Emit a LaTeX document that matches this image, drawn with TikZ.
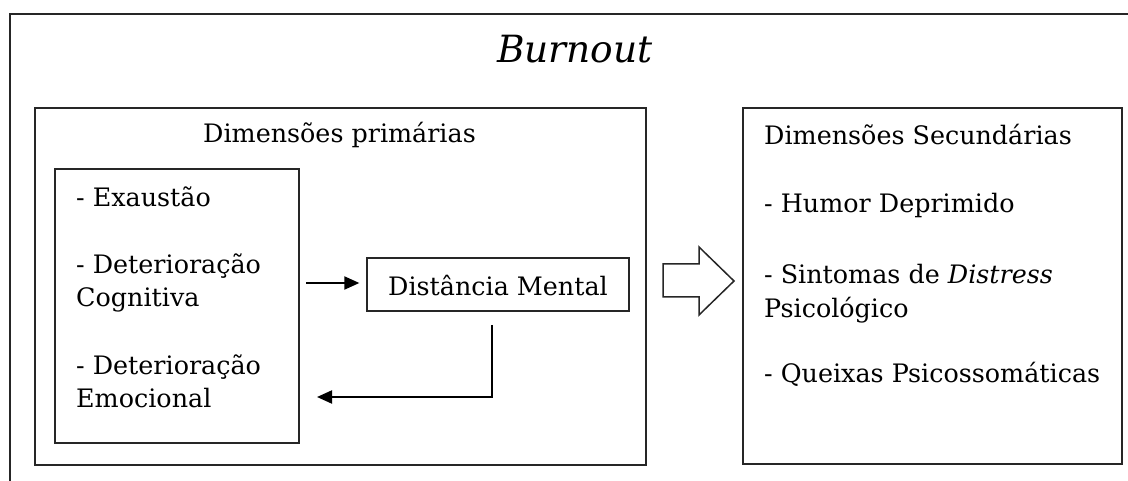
\documentclass[tikz,border=0pt]{standalone}
\usepackage{fontspec}
\setmainfont{DejaVu Serif}
\usetikzlibrary{arrows.meta}
\tikzset{
  frame/.style={draw=black!85, line width=1.3pt},
  boxnode/.style={draw=black!85, line width=1.3pt, inner sep=0pt, fill=none},
  txt/.style={anchor=base west, inner sep=0pt, font=\fontsize{25.4}{33}\selectfont},
  flow/.style={line width=2pt, -{Triangle[length=15pt,width=13pt]}},
}
\begin{document}
\begin{tikzpicture}[x=1pt,y=-1pt]
\useasboundingbox (0,0) rectangle (1128,481);
\fill[white] (0,0) rectangle (1128,481);
% outer frame (open to the right and bottom)
\coordinate (oTR) at (1128,14);
\coordinate (oTL) at (10,14);
\coordinate (oBL) at (10,481);
\draw[frame] (oTR) -- (oTL) -- (oBL);
% title
\node[anchor=base, inner sep=0pt, font=\fontsize{37.5}{45}\selectfont\itshape] (title) at (575,63) {Burnout};
% primary box
\node[boxnode, minimum width=611pt, minimum height=357pt] (prim) at (340.5,286.5) {};
\node[txt] (primt) at (203,143) {Dimensões primárias};
% inner box
\node[boxnode, minimum width=244pt, minimum height=274pt] (inner) at (177,306) {};
\node[txt] (i1) at (76,207) {- Exaustão};
\node[txt] (i2a) at (76,274) {- Deterioração};
\node[txt] (i2b) at (76,307) {Cognitiva};
\node[txt] (i3a) at (76,374) {- Deterioração};
\node[txt] (i3b) at (76,407) {Emocional};
% distancia mental
\node[boxnode, minimum width=262pt, minimum height=53pt] (dm) at (498,284.5) {};
\node[anchor=base, inner sep=0pt, font=\fontsize{25.4}{33}\selectfont] (dmt) at (498,295) {Distância Mental};
% arrows
\coordinate (fs) at (306,283);
\coordinate (rs) at (492,325);
\coordinate (rc) at (492,397);
\coordinate (re) at (317,397);
\draw[flow] (fs) -- ([xshift=-7pt]dm.west |- fs);
\draw[flow] (rs) -- (rc) -- (re);
% block arrow
\draw[black!85, line width=1.5pt, line join=miter]
  (663,264) -- (699,264) -- (699,247) -- (734,281) -- (699,315) -- (699,297) -- (663,297) -- cycle;
% secondary box
\node[boxnode, minimum width=379pt, minimum height=356pt] (sec) at (932.5,286) {};
\node[txt] (s0) at (764,145) {Dimensões Secundárias};
\node[txt] (s1) at (764,213) {- Humor Deprimido};
\node[txt] (s2a) at (764,284) {- Sintomas de \textit{Distress}};
\node[txt] (s2b) at (764,318) {Psicológico};
\node[txt] (s3) at (764,382) {- Queixas Psicossomáticas};
\end{tikzpicture}
\end{document}
